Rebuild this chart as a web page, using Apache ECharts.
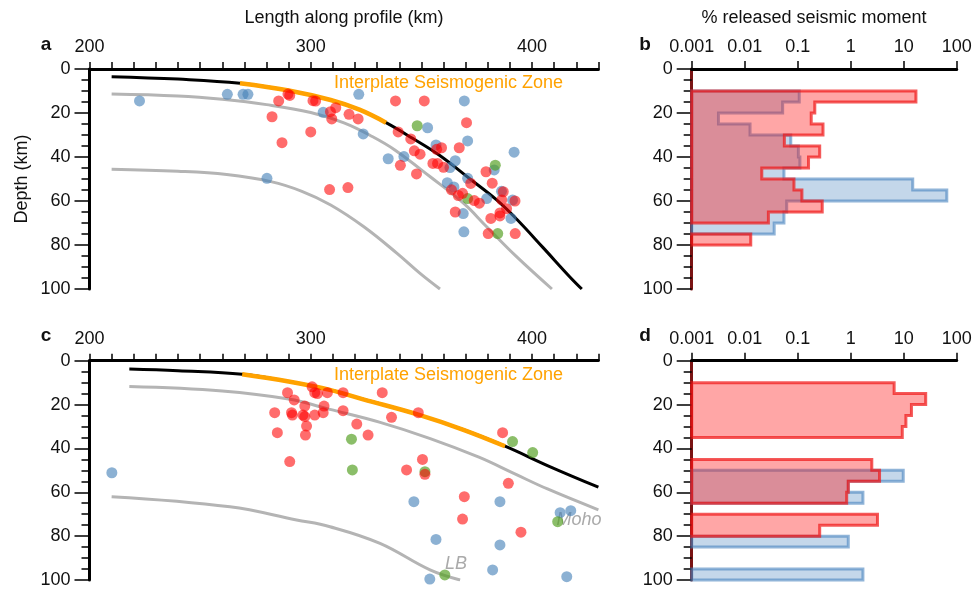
<!DOCTYPE html>
<html><head><meta charset="utf-8">
<script src="https://cdn.jsdelivr.net/npm/echarts@6/dist/echarts.min.js"></script>
<style>html,body{margin:0;padding:0;background:#fff}#c{width:977px;height:591px}</style>
</head><body><div id="c"></div>
<script>
// ---------- DATA ----------
// Panel a: slab top, Moho-like and lower boundary curves (km along profile, depth km)
const slabA = [[210,3.5],[240,4.6],[268,6.5],[290,9.8],[309,14.1],[322,18.5],[334,24.4],[346,31.5],[358,39.1],[372,50],[384,59.5],[393,68.2],[405,81.2],[417,94.4],[422.5,100]];
const iszA = [268, 334];
const mohoA = [[210,11.4],[240,12.3],[260,13.8],[280,16.2],[300,19.8],[315,24.5],[328,30.8],[338,36.8],[354,49],[369,61],[379.5,71.7],[393,85.3],[409,100]];
const lbA = [[210,45.6],[240,46.5],[262,48],[282,51.2],[296,55.6],[309,61.8],[324,71.7],[339,83.8],[349.4,92.9],[358.4,100]];
// Panel c curves
const slabC = [[218,3.8],[240,4.6],[269,6.2],[290,9.5],[308.6,13.3],[323.7,17.6],[348.6,24.6],[369,31.5],[387.8,39],[408,48.3],[430,57.7]];
const iszC = [269, 388];
const mohoC = [[218,11.8],[260,13.8],[290,17.5],[308.7,22.2],[331,28],[354,35.5],[376,44],[392,51.5],[407,58.5],[430,68]];
const lbC = [[210,62],[263.5,66.6],[293.6,72.6],[308.7,75.7],[331.3,83.3],[353.9,95.4],[367.5,100]];

// Earthquakes panel a
const blueA = [[222.6,14.5],[262.3,11.5],[269.4,11.5],[271.6,11.5],[305.6,19.7],[280.2,49.7],[321.7,11.5],[369.4,14.5],[352.8,26.7],[323.7,29.5],[370.9,32.7],[356.6,34.5],[391.9,37.8],[335,40.8],[342.1,39.8],[365.3,41.7],[362.9,44.8],[382.9,45.9],[370.9,49.7],[361.7,51.7],[364.7,53.6],[386.2,55.6],[379.5,58.9],[391.2,59.6],[368.9,65.7],[390.5,67.9],[369.2,74]];
const greenA = [[348.1,25.8],[383.4,43.7],[370.9,58.9],[384.5,74.8]];
const redA = [[289.7,11.4],[290.5,12],[285.5,14.5],[301,14.4],[302.2,14.6],[282.5,21.7],[300,28.6],[287,33.5],[311.3,17.6],[308.9,19.4],[309.5,22.7],[317.3,20.6],[308.5,54.8],[316.8,53.9],[338.3,14.5],[351.3,14.5],[321.4,22.7],[370.4,24.4],[339.5,28.6],[345.2,31.8],[346.8,37.2],[349.4,38.7],[359.1,35.8],[367.1,35.8],[356.9,36.5],[355.2,42.9],[357.3,42.9],[360,44.7],[340.5,43.8],[347.8,47.7],[372.3,52],[379.2,46.7],[382,51.9],[363.6,54.9],[366.7,57.5],[368.6,56.5],[373.9,59.8],[376.2,61],[387,55.8],[386.3,59.5],[392.3,60],[388.5,63.5],[385.5,65.4],[385.5,66.8],[381.4,67.9],[365.3,65],[380.2,74.8],[392.4,74.8]];
// Earthquakes panel c
const blueC = [[210.1,51.1],[346.6,64.3],[385.5,64.3],[412.7,69.3],[417.5,68.4],[356.6,81.5],[385.5,84],[382.2,95.4],[415.7,98.5],[353.8,99.6]];
const greenC = [[318.4,35.8],[318.8,49.8],[351.6,50.6],[391.2,36.9],[400.3,41.9],[411.6,73.4],[360.6,97.7]];
const redC = [[300.6,11.9],[301.8,14.6],[303,15],[289.5,14.6],[292.5,17.9],[307.5,14.6],[314.6,14.6],[297.3,20.7],[306,20.7],[314.6,22.8],[283.7,23.7],[291.3,23.7],[291.7,24.8],[296.5,24.8],[297.3,25.5],[301.8,24.8],[305.6,23.7],[298.1,29.8],[297.6,33.9],[284.9,32.8],[290.5,46],[332.3,14.6],[336.5,25.8],[348.6,23.7],[320.8,28.9],[325.9,33.9],[386.7,32.8],[350.5,45],[343.3,49.8],[351.6,51.8],[389.3,55.9],[369.4,62],[368.6,72.2],[395,78.2]];

// Histograms: % released seismic moment per 5 km depth bin (0-5, 5-10, ... 95-100); 0 = none
const binSize = 5;
const redB  = [0,0,17,0.21,0.18,0.30,0.056,0.26,0.16,0.021,0.085,0.12,0.29,0.028,0,0.013,0,0,0,0];
const blueB = [0,0,0.107,0.052,0.0032,0.0126,0.074,0.103,0.11,0.055,14.8,65,0.062,0.055,0.036,0,0,0,0,0];
const redD  = [0,0,6.6,26,14,11,9.4,0,0,2.5,3.5,0.9,0.84,0,3.2,0.26,0,0,0,0];
const blueD = [0,0,0,0,0,0,0,0,0,0,9.8,0.9,1.7,0,0,0,0.9,0,0,1.7];

const kmTicks = [200,300,400];
const logTicks = ['0.001','0.01','0.1','1','10','100'];

// ---------- STYLE ----------
const FONT = 'Liberation Sans, Arial, Helvetica, sans-serif';
const FS = 18;
const C_BLUE = 'rgba(70,130,185,0.78)';
const C_RED = 'rgba(255,0,0,0.72)';
const C_GREEN = 'rgba(85,160,35,0.85)';
const C_GRAY = '#b4b4b4';
const C_ORANGE = '#ffa200';

const chart = echarts.init(document.getElementById('c'), null, {renderer:'canvas'});

const gridA = {left:89.5, top:69, width:508.9, height:220};
const gridC = {left:89.5, top:360.7, width:508.9, height:219.3};
const gridB = {left:691.7, top:69, width:265, height:220};
const gridD = {left:691.7, top:360.7, width:265, height:219.3};

function kmAxis(gi){
  return {type:'value', gridIndex:gi, position:'top', min:200, max:430, interval:10,
    axisLine:{show:true, lineStyle:{color:'#000', width:3}},
    axisTick:{show:true, inside:false, length:7, lineStyle:{color:'#000', width:1.5}},
    axisLabel:{show:true, margin:13, fontSize:FS, color:'#111', fontFamily:FONT,
      formatter:v => kmTicks.indexOf(v) >= 0 ? String(v) : ''},
    splitLine:{show:false}};
}
function logAxis(gi){
  return {type:'log', gridIndex:gi, position:'top', min:0.001, max:100, logBase:10,
    axisLine:{show:true, lineStyle:{color:'#000', width:3}},
    axisTick:{show:true, inside:false, length:8, lineStyle:{color:'#000', width:1.5}},
    minorTick:{show:false},
    axisLabel:{show:true, margin:13, fontSize:FS, color:'#111', fontFamily:FONT,
      formatter:v => { const e = Math.round(Math.log10(v)); return logTicks[e+3]; }},
    splitLine:{show:false}};
}
function depthAxis(gi, lineColor){
  return {type:'value', gridIndex:gi, inverse:true, min:0, max:100, interval:20,
    axisLine:{show:true, lineStyle:{color:lineColor, width:3}},
    axisTick:{show:true, inside:false, length:15, lineStyle:{color:'#000', width:1.5}},
    minorTick:{show:true, splitNumber:4, length:8, lineStyle:{color:'#000', width:1.5}},
    axisLabel:{show:true, margin:19, fontSize:FS, color:'#111', fontFamily:FONT},
    splitLine:{show:false}};
}

function curve(data, gi, color, width, z){
  return {type:'line', xAxisIndex:gi, yAxisIndex:gi, data:data, smooth:0.4, showSymbol:false, symbol:'none',
    lineStyle:{color:color, width:width, cap:'butt'}, z:z, silent:true, animation:false};
}
function subRange(data, r){ return data.filter(p => p[0] >= r[0] && p[0] <= r[1]); }
function quakes(data, gi, color, z){
  return {type:'scatter', xAxisIndex:gi, yAxisIndex:gi, data:data, symbolSize:11,
    itemStyle:{color:color}, z:z, clip:false, animation:false};
}

function runsOf(vals){
  const runs = []; let s = -1;
  for (let i=0;i<=vals.length;i++){
    const on = i < vals.length && vals[i] > 0;
    if (on && s < 0) s = i;
    if (!on && s >= 0){ runs.push([0.001, s*binSize, s, i-1]); s = -1; }
  }
  return runs;
}
function histo(vals, gi, fill, stroke, z){
  return {type:'custom', xAxisIndex:gi, yAxisIndex:gi, data:runsOf(vals),
    encode:{x:0, y:1}, z:z, clip:false, animation:false,
    renderItem:function(params, api){
      const s = api.value(2), e = api.value(3);
      const pts = [api.coord([0.001, s*binSize])];
      for (let i=s;i<=e;i++){
        pts.push(api.coord([vals[i], i*binSize]));
        pts.push(api.coord([vals[i], (i+1)*binSize]));
      }
      pts.push(api.coord([0.001, (e+1)*binSize]));
      return {type:'polygon', shape:{points:pts},
        style:{fill:fill, stroke:stroke, lineWidth:3, lineJoin:'miter'}};
    }};
}

const T = (text, x, y, extra) => Object.assign({type:'text', x:x, y:y,
  style:Object.assign({text:text, font:FS+'px '+FONT, fill:'#111', textAlign:'center', textVerticalAlign:'middle'}, extra||{})});

const option = {
  backgroundColor:'#fff',
  animation:false,
  grid:[gridA, gridB, gridC, gridD],
  xAxis:[kmAxis(0), logAxis(1), kmAxis(2), logAxis(3)],
  yAxis:[depthAxis(0,'#000'), depthAxis(1,'#7a1414'), depthAxis(2,'#000'), depthAxis(3,'#7a1414')],
  series:[
    curve(mohoA,0,C_GRAY,3,2), curve(lbA,0,C_GRAY,3,2), curve(slabA,0,'#000',3,3), curve(subRange(slabA,iszA),0,C_ORANGE,4.5,4),
    curve(mohoC,2,C_GRAY,3,2), curve(lbC,2,C_GRAY,3,2), curve(slabC,2,'#000',3,3), curve(subRange(slabC,iszC),2,C_ORANGE,4.5,4),
    quakes(blueA,0,C_BLUE,5), quakes(greenA,0,C_GREEN,6), quakes(redA,0,C_RED,7),
    quakes(blueC,2,C_BLUE,5), quakes(greenC,2,C_GREEN,6), quakes(redC,2,C_RED,7),
    histo(blueB,1,'rgba(70,130,190,0.32)','rgba(70,130,190,0.6)',3), histo(redB,1,'rgba(255,20,20,0.38)','rgba(240,20,20,0.7)',4),
    histo(blueD,3,'rgba(70,130,190,0.32)','rgba(70,130,190,0.6)',3), histo(redD,3,'rgba(255,20,20,0.38)','rgba(240,20,20,0.7)',4)
  ],
  graphic:[
    T('Length along profile (km)', 344, 18),
    T('% released seismic moment', 814, 18),
    T('Depth (km)', 22, 179, {}),
    T('a', 46, 45, {font:'bold 19px '+FONT}),
    T('b', 645, 45, {font:'bold 19px '+FONT}),
    T('c', 46, 336, {font:'bold 19px '+FONT}),
    T('d', 645, 336, {font:'bold 19px '+FONT}),
    T('Interplate Seismogenic Zone', 334, 83, {fill:C_ORANGE, textAlign:'left'}),
    T('Interplate Seismogenic Zone', 334, 375, {fill:C_ORANGE, textAlign:'left'}),
    T('Moho', 579, 520, {fill:'#aaaaaa', font:'italic 18px '+FONT}),
    T('LB', 456, 564, {fill:'#aaaaaa', font:'italic 18px '+FONT})
  ]
};
option.graphic[2].rotation = Math.PI/2;
chart.setOption(option);
</script></body></html>
